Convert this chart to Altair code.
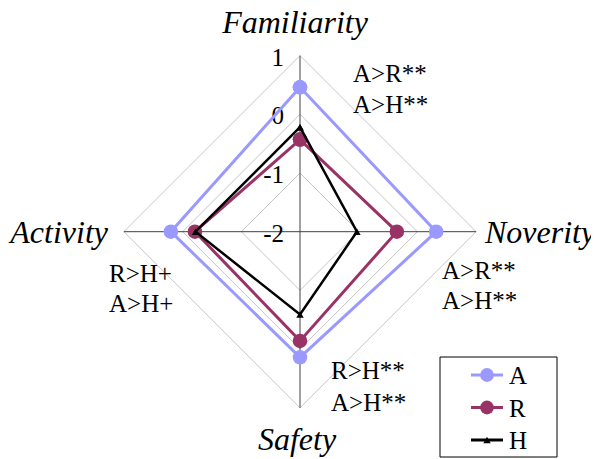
import math
import altair as alt
import pandas as pd

# ---- data ----
axes_names = ["Familiarity", "Noverity", "Safety", "Activity"]
axis_angles = [90, 0, -90, 180]          # spoke direction (degrees)
series_names = ["A", "R", "H"]
a_values = [0.46, 0.32, 0.14, 0.20]
r_values = [-0.43, -0.35, -0.14, -0.21]
h_values = [-0.22, -1.03, -0.59, -0.22]
grid_levels = [-1, 0, 1]
tick_values = [1, 0, -1, -2]
tick_labels = ["1", "0", "-1", "-2"]
scale_min = -2
scale_max = 1

notes_top = ["A>R**", "A>H**"]
notes_right = ["A>R**", "A>H**"]
notes_bottom = ["R>H**", "A>H**"]
notes_left = ["R>H+", "A>H+"]

colors = {"A": "#9999FF", "R": "#993366", "H": "#000000"}
FONT = "Liberation Serif"

# ---- geometry of the plot area ----
W, H_ = 583, 451
CX, CY = 292, 223.7            # centre in plot pixels
UNIT = 58.7                    # pixels per unit
xdom = [-CX / UNIT, (W - CX) / UNIT]
ydom = [(CY - H_) / UNIT, CY / UNIT]
xs = alt.Scale(domain=xdom, nice=False, zero=False)
ys = alt.Scale(domain=ydom, nice=False, zero=False)

rad = "datum.angle * PI / 180"

# series table
rows = []
for s, vals in zip(series_names, [a_values, r_values, h_values]):
    for i in range(len(axes_names) + 1):
        k = i % len(axes_names)
        rows.append({"series": s, "axis": axes_names[k], "value": vals[k],
                     "angle": axis_angles[k], "idx": i})
sdf = pd.DataFrame(rows)

# grid table
grows = []
for lv in grid_levels:
    for i in range(len(axes_names) + 1):
        k = i % len(axes_names)
        grows.append({"level": lv, "angle": axis_angles[k], "idx": i})
gdf = pd.DataFrame(grows)

spokes = pd.DataFrame({"axis": axes_names, "angle": axis_angles})
ticks = pd.DataFrame({"value": tick_values, "label": tick_labels})


def polar(ch, field):
    return ch.transform_calculate(
        r=f"datum.{field} - ({scale_min})"
    ).transform_calculate(
        px=f"datum.r * cos({rad})", py=f"datum.r * sin({rad})"
    )


grid = polar(alt.Chart(gdf), "level").mark_line(
    color="#C6C6C6", strokeWidth=1
).encode(
    x=alt.X("px:Q", scale=xs, axis=None),
    y=alt.Y("py:Q", scale=ys, axis=None),
    detail="level:N", order="idx:Q",
)

spoke = alt.Chart(spokes).transform_calculate(
    ex=f"({scale_max} - ({scale_min})) * cos({rad})",
    ey=f"({scale_max} - ({scale_min})) * sin({rad})",
    zx="0", zy="0",
).mark_rule(color="#404040", strokeWidth=1).encode(
    x=alt.X("zx:Q", scale=xs, axis=None), y=alt.Y("zy:Q", scale=ys, axis=None),
    x2="ex:Q", y2="ey:Q",
)

tick_text = alt.Chart(ticks).transform_calculate(
    ty=f"datum.value - ({scale_min})"
).mark_text(font=FONT, fontSize=25, align="right", baseline="middle", dy=2,
            color="#000").encode(
    x=alt.value(276), y=alt.Y("ty:Q", scale=ys, axis=None), text="label:N"
)

layers = [grid, spoke, tick_text]

for s in series_names:
    base = polar(alt.Chart(sdf).transform_filter(f"datum.series == '{s}'"), "value")
    enc = dict(x=alt.X("px:Q", scale=xs, axis=None),
               y=alt.Y("py:Q", scale=ys, axis=None))
    sw = 2.5 if s == "H" else 3
    layers.append(base.mark_line(color=colors[s], strokeWidth=sw).encode(order="idx:Q", **enc))
    if s == "H":
        pt = base.mark_point(shape="triangle-up", filled=True, size=55, opacity=1,
                             color=colors[s])
    else:
        pt = base.mark_point(shape="circle", filled=True, size=210, opacity=1,
                             color=colors[s])
    layers.append(pt.encode(**enc))

dummy = pd.DataFrame({"k": [0]})


def txt(text, x, y, italic=False, size=25, align="left"):
    return alt.Chart(dummy).mark_text(
        font=FONT, fontSize=size, fontStyle="italic" if italic else "normal",
        align=align, baseline="alphabetic", color="#000", text=text
    ).encode(x=alt.value(x), y=alt.value(y))


# axis titles
layers.append(txt(axes_names[0], 287, 25, italic=True, size=32, align="center"))
layers.append(txt(axes_names[1], 477, 235, italic=True, size=32))
layers.append(txt(axes_names[2], 289, 442, italic=True, size=32, align="center"))
layers.append(txt(axes_names[3], 100, 235, italic=True, size=32, align="right"))

# significance notes
for j, t in enumerate(notes_top):
    layers.append(txt(t, 345, 74 + 31 * j))
for j, t in enumerate(notes_right):
    layers.append(txt(t, 434, 271 + 30 * j))
for j, t in enumerate(notes_bottom):
    layers.append(txt(t, 323, 371 + 32 * j))
for j, t in enumerate(notes_left):
    layers.append(txt(t, 101, 274 + 30 * j))

# legend
layers.append(alt.Chart(dummy).mark_rect(fill="white", stroke="#000", strokeWidth=1).encode(
    x=alt.value(432), x2=alt.value(549), y=alt.value(349), y2=alt.value(449)))
for j, s in enumerate(series_names):
    yy = 367 + 32.5 * j
    layers.append(alt.Chart(dummy).mark_rule(color=colors[s], strokeWidth=3).encode(
        x=alt.value(463), x2=alt.value(495), y=alt.value(yy)))
    if s == "H":
        p = alt.Chart(dummy).mark_point(shape="triangle-up", filled=True, size=55,
                                        opacity=1, color=colors[s])
    else:
        p = alt.Chart(dummy).mark_point(shape="circle", filled=True, size=190,
                                        opacity=1, color=colors[s])
    layers.append(p.encode(x=alt.value(479), y=alt.value(yy)))
    layers.append(txt(s, 501, yy + 9))

chart = alt.layer(*layers).properties(
    width=W, height=H_,
    autosize=alt.AutoSizeParams(type="none"),
    padding=0,
).configure_view(stroke=None)

chart.save("out.html", embed_options={"renderer": "svg", "actions": False})
